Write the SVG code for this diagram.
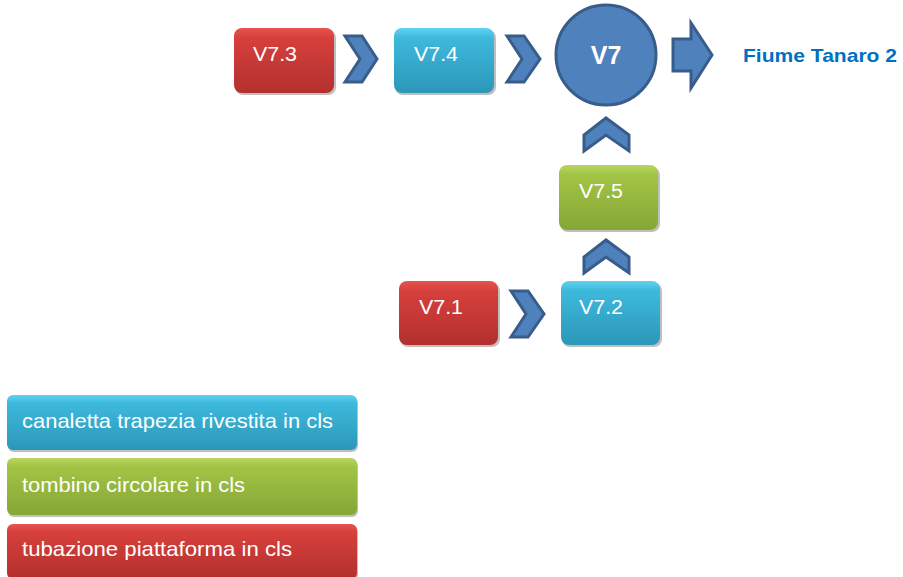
<svg xmlns="http://www.w3.org/2000/svg" width="903" height="577" viewBox="0 0 903 577">
<defs>
<linearGradient id="gRed" x1="0" y1="0" x2="0" y2="1">
<stop offset="0" stop-color="#E8534F"/><stop offset="0.15" stop-color="#D6403C"/><stop offset="1" stop-color="#B2302E"/>
</linearGradient>
<linearGradient id="gCyan" x1="0" y1="0" x2="0" y2="1">
<stop offset="0" stop-color="#5FD3EE"/><stop offset="0.15" stop-color="#3DB9DC"/><stop offset="1" stop-color="#2C97B8"/>
</linearGradient>
<linearGradient id="gGreen" x1="0" y1="0" x2="0" y2="1">
<stop offset="0" stop-color="#B8D760"/><stop offset="0.15" stop-color="#A2C445"/><stop offset="1" stop-color="#86A636"/>
</linearGradient>
</defs>
<style>
.box{stroke:none;}
.red{fill:url(#gRed);}
.cyan{fill:url(#gCyan);}
.green{fill:url(#gGreen);}
.shadow{fill:#000;opacity:0.25;}
.lbl{font-family:"Liberation Sans",Arial,sans-serif;font-size:20px;fill:#FFFFFF;}
.big{font-family:"Liberation Sans",Arial,sans-serif;font-size:25px;font-weight:bold;fill:#FFFFFF;text-anchor:middle;}
.leg{font-family:"Liberation Sans",Arial,sans-serif;font-size:21px;fill:#FFFFFF;}
.chev{fill:#4F81BD;stroke:#385D8A;stroke-width:3;stroke-linejoin:miter;}
.out{font-family:"Liberation Sans",Arial,sans-serif;font-size:19px;font-weight:bold;fill:#0070C0;}
</style>

<g id="connectors">
<polygon class="chev" points="345,36 362,36 377,59 362,82 345,82 360,59"/>
<polygon class="chev" points="507,36 524,36 540,59 524,82 507,82 522,59"/>
<polygon class="chev" points="511,291 528,291 544,314 528,337 511,337 526,314"/>
<polygon class="chev" points="584,151 584,135 606,118 629,135 629,151 606,135"/>
<polygon class="chev" points="584,273 584,257 606,240 629,257 629,273 606,257"/>
<polygon class="chev" points="673,39 691,39 691,23 712,55 691,88 691,71 673,71"/>
</g>

<g id="V7.3">
<rect class="shadow" x="235" y="30" width="101" height="65" rx="8"/>
<rect class="box red" x="234" y="28" width="100" height="65" rx="8"/>
<text class="lbl" x="253" y="61" textLength="44" lengthAdjust="spacingAndGlyphs">V7.3</text>
</g>
<g id="V7.4">
<rect class="shadow" x="395" y="30" width="101" height="65" rx="8"/>
<rect class="box cyan" x="394" y="28" width="100" height="65" rx="8"/>
<text class="lbl" x="414" y="61" textLength="44" lengthAdjust="spacingAndGlyphs">V7.4</text>
</g>
<g id="V7">
<circle cx="606" cy="55" r="50" fill="#4F81BD" stroke="#385D8A" stroke-width="3"/>
<text class="big" x="606" y="64">V7</text>
</g>
<g id="outlet">
<text class="out" x="743" y="62" textLength="154" lengthAdjust="spacingAndGlyphs">Fiume Tanaro 2</text>
</g>
<g id="V7.5">
<rect class="shadow" x="560" y="167" width="100" height="65" rx="8"/>
<rect class="box green" x="559" y="165" width="99" height="65" rx="8"/>
<text class="lbl" x="579" y="198" textLength="44" lengthAdjust="spacingAndGlyphs">V7.5</text>
</g>
<g id="V7.1">
<rect class="shadow" x="400" y="283" width="100" height="64" rx="8"/>
<rect class="box red" x="399" y="281" width="99" height="64" rx="8"/>
<text class="lbl" x="419" y="314" textLength="44" lengthAdjust="spacingAndGlyphs">V7.1</text>
</g>
<g id="V7.2">
<rect class="shadow" x="562" y="283" width="100" height="64" rx="8"/>
<rect class="box cyan" x="561" y="281" width="99" height="64" rx="8"/>
<text class="lbl" x="579" y="314" textLength="44" lengthAdjust="spacingAndGlyphs">V7.2</text>
</g>

<g id="legend-canaletta">
<rect class="shadow" x="8" y="397" width="350" height="55" rx="6"/>
<rect class="box cyan" x="7" y="395" width="350" height="55" rx="6"/>
<text class="leg" x="22" y="428" textLength="311" lengthAdjust="spacingAndGlyphs">canaletta trapezia rivestita in cls</text>
</g>
<g id="legend-tombino">
<rect class="shadow" x="8" y="460" width="350" height="57" rx="6"/>
<rect class="box green" x="7" y="458" width="350" height="57" rx="6"/>
<text class="leg" x="22" y="492" textLength="223" lengthAdjust="spacingAndGlyphs">tombino circolare in cls</text>
</g>
<g id="legend-tubazione">
<rect class="shadow" x="8" y="526" width="350" height="55" rx="6"/>
<rect class="box red" x="7" y="524" width="350" height="55" rx="6"/>
<text class="leg" x="22" y="556" textLength="270" lengthAdjust="spacingAndGlyphs">tubazione piattaforma in cls</text>
</g>
</svg>
